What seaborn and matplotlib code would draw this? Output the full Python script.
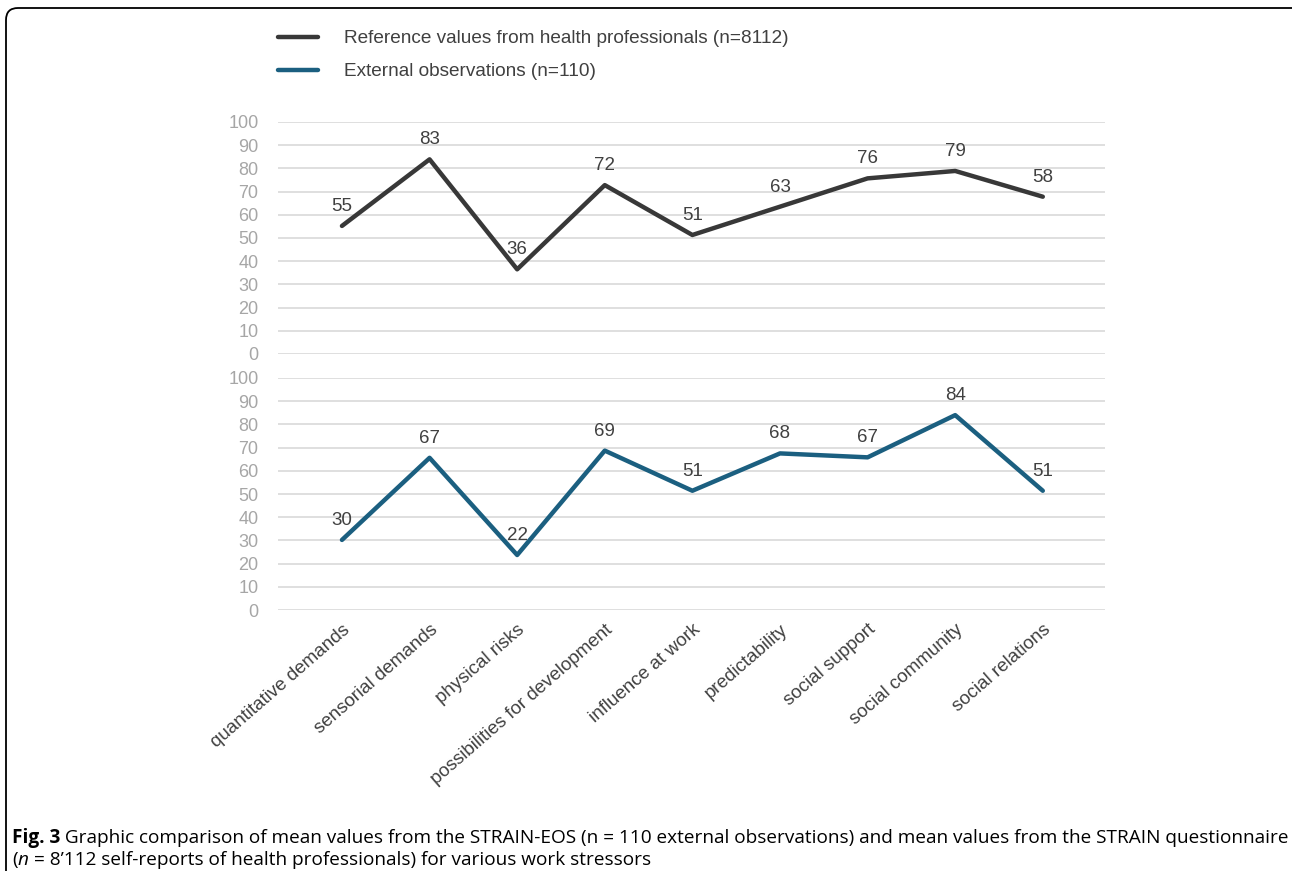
import numpy as np
import pandas as pd
import seaborn as sns
import matplotlib.pyplot as plt
from matplotlib.patches import FancyBboxPatch

# categories (work stressors)
stressors = ["quantitative demands", "sensorial demands", "physical risks",
             "possibilities for development", "influence at work", "predictability",
             "social support", "social community", "social relations"]

# plotted values and the printed labels
ref_values = [55.2, 83.9, 36.5, 72.8, 51.3, 63.5, 75.7, 78.9, 67.8]
ref_labels = ["55", "83", "36", "72", "51", "63", "76", "79", "58"]
ext_values = [30.2, 65.6, 23.7, 68.7, 51.4, 67.5, 65.8, 84.0, 51.4]
ext_labels = ["30", "67", "22", "69", "51", "68", "67", "84", "51"]

ref_name = "Reference values from health professionals (n=8112)"
ext_name = "External observations (n=110)"

sns.set_style("white")
plt.rcParams['font.family'] = ['Liberation Sans', 'DejaVu Sans']

ref_color = "#383838"
ext_color = "#1b5f80"
text_color = "#404040"
tick_color = "#a6a6a6"

fig = plt.figure(figsize=(12.92, 8.71), dpi=100)
W, H = 1292, 871
left, right = 278 / W, 1105 / W
ax_top = fig.add_axes([left, 1 - 354 / H, right - left, 232 / H])
ax_bot = fig.add_axes([left, 1 - 610 / H, right - left, 232 / H], sharex=ax_top)

df_ref = pd.DataFrame({"x": np.arange(len(stressors)), "y": ref_values})
df_ext = pd.DataFrame({"x": np.arange(len(stressors)), "y": ext_values})

sns.lineplot(data=df_ref, x="x", y="y", ax=ax_top, color=ref_color, lw=3.2,
             label=ref_name, legend=False)
sns.lineplot(data=df_ext, x="x", y="y", ax=ax_bot, color=ext_color, lw=3.2,
             label=ext_name, legend=False)

for ax, vals, labs in [(ax_top, ref_values, ref_labels), (ax_bot, ext_values, ext_labels)]:
    for i, (v, t) in enumerate(zip(vals, labs)):
        ax.annotate(t, (i, v), xytext=(0, 8), textcoords="offset points",
                    ha="center", va="bottom", fontsize=13.5, color=text_color)
    ax.set_ylim(0, 100)
    ax.set_yticks(range(0, 101, 10))
    ax.grid(axis="y", color="#d9d9d9", lw=1.2)
    ax.set_axisbelow(True)
    ax.tick_params(axis="y", length=0, pad=14, labelsize=13, labelcolor=tick_color)
    ax.tick_params(axis="x", length=0)
    for s in ax.spines.values():
        s.set_visible(False)
    ax.set_xlabel("")
    ax.set_ylabel("")

ax_top.set_xlim(-0.73, 8.71)
ax_top.tick_params(axis="x", labelbottom=False)
ax_bot.set_xticks(range(len(stressors)))
ax_bot.set_xticklabels(stressors, rotation=41, ha="right", rotation_mode="anchor",
                       fontsize=13.5, color=text_color)
ax_bot.tick_params(axis="x", pad=8)

# legend
handles = [ax_top.lines[0], ax_bot.lines[0]]
fig.legend(handles=handles, labels=[ref_name, ext_name], loc="upper left",
           bbox_to_anchor=(261 / W, 1 - 13 / H), frameon=False, fontsize=13.7,
           handlelength=2.1, handletextpad=1.35, labelspacing=0.82,
           labelcolor=text_color)

# frame around the figure (top and left edges visible)
box = FancyBboxPatch((0.06, -1.0), 14.0, 8.71 - 0.08 + 1.0,
                     boxstyle="round,pad=0,rounding_size=0.12",
                     transform=fig.dpi_scale_trans, fill=False, ec="black", lw=1.3)
fig.patches.append(box)

# caption, built from pieces
renderer = fig.canvas.get_renderer()


def write_line(pieces, x, y):
    for txt, weight, style in pieces:
        t = fig.text(x, y, txt, fontsize=13.7, family="Open Sans", weight=weight,
                     style=style, color="black", va="baseline", ha="left")
        bb = t.get_window_extent(renderer=renderer)
        x += bb.width / W


write_line([("Fig. 3", "bold", "normal"),
            (" Graphic comparison of mean values from the STRAIN-EOS (n = 110 external observations) "
             "and mean values from the STRAIN questionnaire", "normal", "normal")],
           12 / W, 1 - 843 / H)
write_line([("(", "normal", "normal"), ("n", "normal", "italic"),
            (" = 8\u2019112 self-reports of health professionals) for various work stressors",
             "normal", "normal")],
           12 / W, 1 - 865 / H)

fig.savefig("out.png", dpi=100)
